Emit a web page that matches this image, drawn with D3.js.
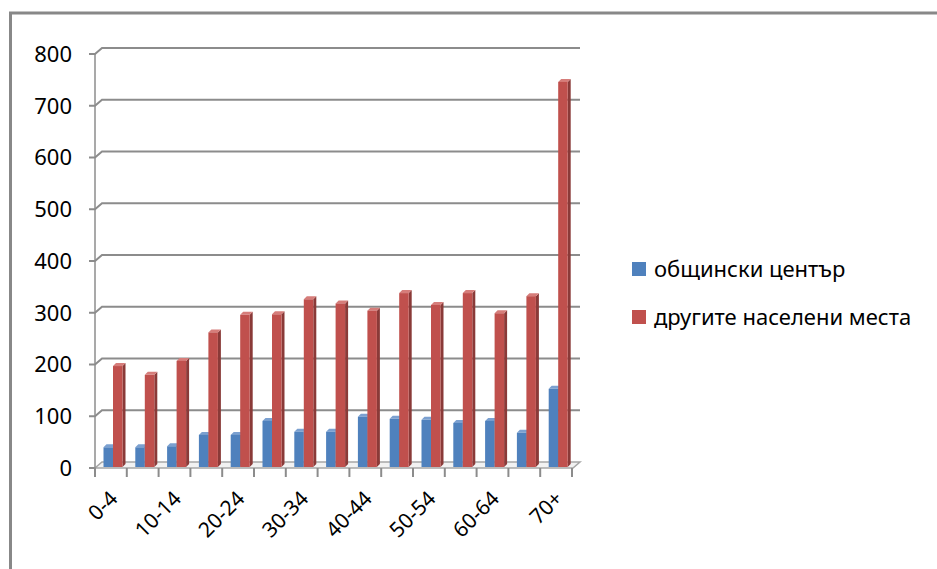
<!DOCTYPE html>
<html lang="bg">
  <head>
    <meta charset="utf-8">
    <title>Население по възраст</title>
    <script src="https://cdn.jsdelivr.net/npm/d3@7"></script>
    <style>
      body { margin: 0; background: #fff; }
      text { font-family: "Noto Sans", sans-serif; fill: #000; }
    </style>
  </head>
  <body>
    <script>
      // age groups
      var categories = ["0-4", "5-9", "10-14", "15-19", "20-24", "25-29", "30-34", "35-39",
                        "40-44", "45-49", "50-54", "55-59", "60-64", "65-69", "70+"];
      var seriesNames = ["общински център", "другите населени места"];
      var centre = [40, 40, 42, 64, 64, 91, 70, 70, 99, 95, 93, 87, 91, 68, 153];
      var others = [197, 180, 207, 262, 296, 297, 326, 318, 304, 338, 315, 338, 299, 332, 746];
      var yTicks = [0, 100, 200, 300, 400, 500, 600, 700, 800];

      var w = 937, h = 569;
      var depthX = 7, depthY = -6;   // back wall offset
      var barDX = 3, barDY = -3;     // bar depth

      var colors = [
        { front: "#4f81bd", side: "#385d8a", top: "#7ba0d0" },
        { front: "#c0504d", side: "#8a3a38", top: "#d67d7a" }
      ];

      var svg = d3.select("body").append("svg")
        .attr("width", w)
        .attr("height", h);

      // frame
      svg.append("path")
        .attr("d", "M10.5," + h + "V13H" + w)
        .attr("fill", "none")
        .attr("stroke", "#888")
        .attr("stroke-width", 3);

      var x = d3.scaleBand().domain(categories).range([95, 572]);
      var y = d3.scaleLinear().domain([0, 800]).range([468, 54]);
      var inner = d3.scaleBand().domain([0, 1]).range([8.5, 27.5]);

      // floor
      var x0 = 95, x1 = 573;
      svg.append("polygon")
        .attr("points", [[x0, y(0)], [x1, y(0)], [x1 + depthX, y(0) + depthY], [x0 + depthX, y(0) + depthY]].join(" "))
        .attr("fill", "#f2f2f2")
        .attr("stroke", "#a6a6a6")
        .attr("stroke-width", 1.5);

      // gridlines with the little slanted step at the front
      svg.selectAll(".grid")
        .data(yTicks.slice(1))
        .enter()
        .append("path")
        .attr("class", "grid")
        .attr("d", function(d) {
          return "M89," + y(d) + "H" + x0 + "L" + (x0 + depthX) + "," + (y(d) + depthY) + "H" + (x1 + depthX);
        })
        .attr("fill", "none")
        .attr("stroke", "#8c8c8c")
        .attr("stroke-width", 2);

      svg.append("path")
        .attr("d", "M89," + y(0) + "H" + x0)
        .attr("stroke", "#8c8c8c")
        .attr("stroke-width", 2);

      // y axis line
      svg.append("line")
        .attr("x1", x0).attr("x2", x0)
        .attr("y1", y(800)).attr("y2", y(0))
        .attr("stroke", "#8c8c8c")
        .attr("stroke-width", 1.5);

      // x ticks
      svg.selectAll(".xtick")
        .data(categories.concat(["end"]))
        .enter()
        .append("line")
        .attr("class", "xtick")
        .attr("x1", function(d, i) { return 95 + i * x.bandwidth(); })
        .attr("x2", function(d, i) { return 95 + i * x.bandwidth(); })
        .attr("y1", y(0))
        .attr("y2", y(0) + 9)
        .attr("stroke", "#8c8c8c")
        .attr("stroke-width", 2);

      // y labels
      svg.selectAll(".ylab")
        .data(yTicks)
        .enter()
        .append("text")
        .attr("class", "ylab")
        .attr("x", 72)
        .attr("y", function(d) { return y(d); })
        .attr("dy", "0.36em")
        .attr("text-anchor", "end")
        .attr("font-size", "22px")
        .text(function(d) { return d; });

      // bars
      var data = [centre, others];
      data.forEach(function(values, s) {
        var g = svg.append("g");
        var bw = inner.bandwidth();
        values.forEach(function(v, i) {
          var bx = x(categories[i]) + inner(s);
          var top = y(v), base = y(0) - 1;
          g.append("polygon")
            .attr("points", [[bx + bw, top], [bx + bw + barDX, top + barDY], [bx + bw + barDX, base + barDY], [bx + bw, base]].join(" "))
            .attr("fill", colors[s].side);
          g.append("polygon")
            .attr("points", [[bx, top], [bx + barDX, top + barDY], [bx + bw + barDX, top + barDY], [bx + bw, top]].join(" "))
            .attr("fill", colors[s].top);
          g.append("rect")
            .attr("x", bx)
            .attr("y", top)
            .attr("width", bw)
            .attr("height", base - top)
            .attr("fill", colors[s].front);
        });
      });

      // x labels, every second one
      svg.selectAll(".xlab")
        .data(categories.filter(function(d, i) { return i % 2 === 0; }))
        .enter()
        .append("text")
        .attr("class", "xlab")
        .attr("font-size", "21px")
        .attr("text-anchor", "end")
        .attr("transform", function(d) {
          return "translate(" + (x(d) + x.bandwidth() / 2 + 8) + "," + (y(0) + 32) + ") rotate(-45)";
        })
        .text(function(d) { return d; });

      // legend
      var legend = svg.selectAll(".legend")
        .data(seriesNames)
        .enter()
        .append("g")
        .attr("class", "legend")
        .attr("transform", function(d, i) { return "translate(632," + (262 + i * 48) + ")"; });

      legend.append("rect")
        .attr("width", 14)
        .attr("height", 14)
        .attr("fill", function(d, i) { return colors[i].front; });

      legend.append("text")
        .attr("x", 22)
        .attr("y", 7)
        .attr("dy", "0.36em")
        .attr("font-size", "22px")
        .text(function(d) { return d; });
    </script>
  </body>
</html>
